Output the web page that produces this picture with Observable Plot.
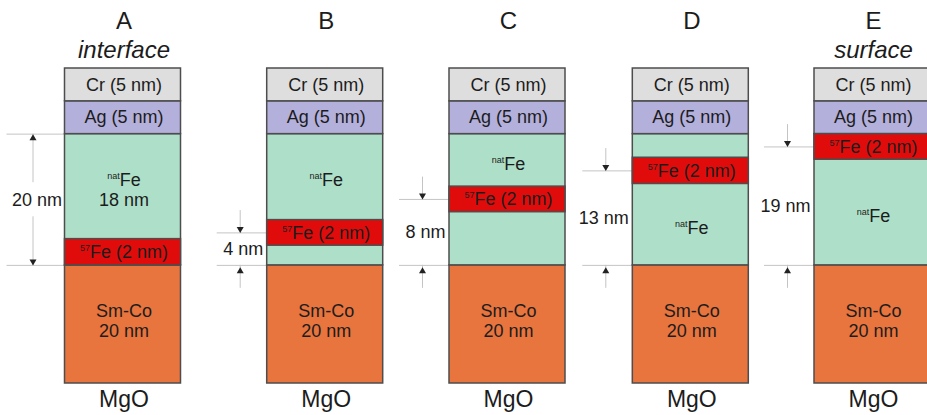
<!DOCTYPE html>
<html><head><meta charset="utf-8">
<script src="https://cdn.jsdelivr.net/npm/d3@7"></script>
<script src="https://cdn.jsdelivr.net/npm/@observablehq/plot@0.6"></script>
<style>body{margin:0;background:#fff}</style>
</head><body><div id="chart"></div>
<script>
// ---- data ----
const samples = ["A", "B", "C", "D", "E"];
const subtitles = ["interface", "", "", "", "surface"];
const substrate = "MgO";
// layer stack as drawn (units ~ nm as drawn, counted up from the substrate)
const fixedLayers = ["Sm-Co", "natFe", "Ag", "Cr"];
const fixedLayerBottom = [0, 18, 38, 43];
const fixedLayerTop = [18, 38, 43, 48];
const smCoLabel = "Sm-Co\n20 nm";
const agLabel = "Ag (5 nm)";
const crLabel = "Cr (5 nm)";
const fe57Bottom = [18, 21, 26.1, 30.4, 34.1];
const fe57Top = [22, 24.9, 30, 34.4, 38];
const fe57Label = "{57}Fe (2 nm)";
const natFeLabels = ["{nat}Fe\n18 nm", "{nat}Fe", "{nat}Fe", "{nat}Fe", "{nat}Fe"];
const natFeLabelSide = ["above", "above", "above", "below", "below"];
const depthLabels = ["20 nm", "4 nm", "8 nm", "13 nm", "19 nm"];
const depthRef = ["stackTop", "fe57", "fe57", "fe57", "fe57"];

// ---- layout / style ----
const colLeft = [64.5, 266.7, 449, 632.3, 814];
const colWidth = 116;
const colors = {"Cr": "#dedede", "Ag": "#b4b0dc", "natFe": "#aee0c9", "57Fe": "#e00c0c", "Sm-Co": "#e8743e"};
const textColor = "#1c1c1c";
const FONT = "'Liberation Sans', Arial, Helvetica, sans-serif";

const cx = i => colLeft[i] + colWidth / 2;

const rects = samples.flatMap((s, i) => [
  ...fixedLayers.map((n, j) => ({layer: n, x1: colLeft[i], x2: colLeft[i] + colWidth, y1: fixedLayerBottom[j], y2: fixedLayerTop[j]})),
  {layer: "57Fe", x1: colLeft[i], x2: colLeft[i] + colWidth, y1: fe57Bottom[i], y2: fe57Top[i]}
]);

const crAgText = samples.flatMap((s, i) => [
  {x: cx(i), y: (fixedLayerBottom[3] + fixedLayerTop[3]) / 2, text: crLabel},
  {x: cx(i), y: (fixedLayerBottom[2] + fixedLayerTop[2]) / 2, text: agLabel},
  {x: cx(i), y: (fe57Bottom[i] + fe57Top[i]) / 2, text: fe57Label}
]);
const smCoText = samples.map((s, i) => ({x: cx(i), y: (fixedLayerBottom[0] + fixedLayerTop[0]) / 2, text: smCoLabel}));
const natText = samples.map((s, i) => {
  const lo = natFeLabelSide[i] === "above" ? fe57Top[i] : fixedLayerBottom[1];
  const hi = natFeLabelSide[i] === "above" ? fixedLayerTop[1] : fe57Bottom[i];
  return {x: cx(i), y: (lo + hi) / 2, text: natFeLabels[i]};
});

// depth annotations
const base = fixedLayerBottom[1];
const ann = samples.map((s, i) => {
  const inside = depthRef[i] === "stackTop";
  const top = inside ? fixedLayerTop[1] : (fe57Bottom[i] + fe57Top[i]) / 2;
  return {i, inside, top, mid: (top + base) / 2, left: colLeft[i]};
});
const hLines = ann.flatMap(a => [
  {y: a.top, x1: a.left - (a.inside ? 58 : 50), x2: a.left},
  {y: base, x1: a.left - (a.inside ? 58 : 50), x2: a.left}
]);
const shafts = ann.flatMap(a => {
  const x = a.left - (a.inside ? 32 : 27);
  return a.inside
    ? [{x, y1: a.top, y2: a.mid + 2.6}, {x, y1: a.mid - 2.6, y2: base}]
    : [{x, y1: a.top + 3.4, y2: a.top}, {x, y1: base, y2: base - 3.5}];
});
const headsUp = ann.map(a => ({x: a.left - (a.inside ? 32 : 27), y: a.inside ? a.top : base - 0.3}));
const headsDown = ann.map(a => ({x: a.left - (a.inside ? 32 : 27), y: a.inside ? base : a.top}));
const annText = ann.map(a => ({x: a.left - (a.inside ? 3 : 4), y: a.mid, text: depthLabels[a.i]}));

const triUp = {draw(c) { c.moveTo(0, 0); c.lineTo(3.5, 6); c.lineTo(-3.5, 6); c.closePath(); }};
const triDown = {draw(c) { c.moveTo(0, 0); c.lineTo(3.5, -6); c.lineTo(-3.5, -6); c.closePath(); }};

const chart = Plot.plot({
  width: 927, height: 415, margin: 0,
  x: {domain: [0, 927], range: [0, 927], axis: null},
  y: {domain: [0, 48], range: [383, 68], axis: null},
  color: {type: "identity"},
  style: {fontFamily: FONT, background: "#fff", color: textColor},
  marks: [
    Plot.ruleY(hLines, {y: "y", x1: "x1", x2: "x2", stroke: "#c4c4c4", strokeWidth: 1}),
    Plot.ruleX(shafts, {x: "x", y1: "y1", y2: "y2", stroke: "#c4c4c4", strokeWidth: 1}),
    Plot.dot(headsUp, {x: "x", y: "y", symbol: triUp, fill: "#222", stroke: "none"}),
    Plot.dot(headsDown, {x: "x", y: "y", symbol: triDown, fill: "#222", stroke: "none"}),
    Plot.text(annText, {x: "x", y: "y", text: "text", textAnchor: "end", fontSize: 18, fill: textColor}),
    Plot.rect(rects, {x1: "x1", x2: "x2", y1: "y1", y2: "y2", fill: d => colors[d.layer], stroke: "#4d4d4d", strokeWidth: 1.5}),
    Plot.text(crAgText, {x: "x", y: "y", text: "text", fontSize: 18, dx: 1, fill: textColor}),
    Plot.text(smCoText, {x: "x", y: "y", text: "text", fontSize: 18, lineHeight: 1.15, dx: 1, dy: -4, fill: textColor}),
    Plot.text(natText, {x: "x", y: "y", text: "text", fontSize: 18, lineHeight: 1.1, dx: 1, dy: 3, fill: textColor}),
    Plot.text(samples, {x: (d, i) => cx(i) + 1, text: d => d, frameAnchor: "top", lineAnchor: "middle", dy: 21, fontSize: 24, fill: textColor}),
    Plot.text(subtitles, {x: (d, i) => cx(i) + 1, text: d => d, frameAnchor: "top", lineAnchor: "middle", dy: 50, fontSize: 24, fontStyle: "italic", fill: textColor}),
    Plot.text(samples, {x: (d, i) => cx(i) + 1, text: () => substrate, frameAnchor: "top", lineAnchor: "middle", dy: 399, fontSize: 23, fill: textColor})
  ]
});

// superscripts: "{57}Fe" -> small raised "57" followed by "Fe"
(function applySup(svg) {
  const ns = "http://www.w3.org/2000/svg";
  const walker = document.createTreeWalker(svg, NodeFilter.SHOW_TEXT);
  const nodes = [];
  while (walker.nextNode()) nodes.push(walker.currentNode);
  for (const node of nodes) {
    const m = node.nodeValue.match(/^(.*?)\{(\w+)\}(.*)$/s);
    if (!m) continue;
    const frag = document.createDocumentFragment();
    if (m[1]) frag.append(document.createTextNode(m[1]));
    const sup = document.createElementNS(ns, "tspan");
    sup.setAttribute("font-size", "9");
    sup.setAttribute("dy", "-7");
    sup.textContent = m[2];
    const rest = document.createElementNS(ns, "tspan");
    rest.setAttribute("dy", "7");
    rest.textContent = m[3];
    frag.append(sup, rest);
    node.parentNode.replaceChild(frag, node);
  }
})(chart);

document.getElementById("chart").append(chart);
</script>
</body></html>
